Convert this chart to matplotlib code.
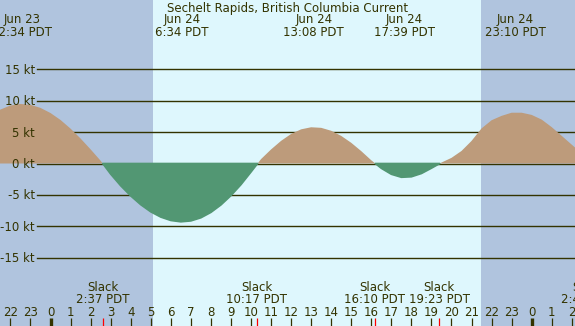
"""
Sechelt Rapids tidal current, Jun 23-24 (XTide-style chart).
Saves out.png at 575x326.
"""
import numpy as np
import matplotlib
matplotlib.use("Agg")
import matplotlib.pyplot as plt
from matplotlib.transforms import blended_transform_factory

# --- Data (hours relative to Jun 24 00:00 PDT, speed in knots) ---
hours = np.arange(-3.0, 27.0, 0.5)
speed = np.array([
    7.8, 8.6, 9.25, 9.5, 9.36, 8.87, 8.05, 6.94, 5.56, 3.98, 2.25, 0.44,
    -1.69, -3.55, -5.17, -6.57, -7.71, -8.55, -9.09, -9.30, -9.16, -8.66,
    -7.80, -6.61, -5.12, -3.37, -1.36,
    0.70, 2.24, 3.61, 4.71, 5.45, 5.78, 5.69, 5.22, 4.40, 3.30, 1.97, 0.51,
    -0.77, -1.72, -2.20, -2.12, -1.60, -0.75,
    0.15, 0.9, 2.0, 3.6, 5.6, 6.9, 7.6, 8.1, 8.1, 7.75, 7.0, 5.8, 4.4, 3.0, 1.6,
])

# max / min current events shown along the top
peak_times = [-1.433, 6.567, 13.133, 17.65, 23.167]
peak_dates = ["Jun 23", "Jun 24", "Jun 24", "Jun 24", "Jun 24"]
peak_clock = ["22:34 PDT", "6:34 PDT", "13:08 PDT", "17:39 PDT", "23:10 PDT"]

# slack water events shown along the bottom
slack_times = [2.617, 10.283, 16.167, 19.383, 26.78]
slack_clock = ["2:37 PDT", "10:17 PDT", "16:10 PDT", "19:23 PDT", "2:47 PDT"]

sunrise, sunset = 5.11, 21.47
grid_kt = [15, 10, 5, 0, -5, -10, -15]
hour_ticks = list(range(-2, 27))
hour_labels = [str(h % 24) for h in hour_ticks]

# --- Style ---
W, H = 575, 326
NIGHT = "#b0c4de"
DAY = "#def7fd"
FLOOD = "#bd9b7b"
EBB = "#529773"
INK = "#333300"
FS = 8.5

fig = plt.figure(figsize=(W / 100, H / 100), dpi=100)
ax = fig.add_axes([0, 0, 1, 1])
ax.set_xlim(-2.52, 26.16)
ax.set_ylim(-25.92, 26.08)
ax.axis("off")
fig.patch.set_facecolor(NIGHT)

# day / night shading
ax.axvspan(-10, sunrise, color=NIGHT, lw=0, zorder=0)
ax.axvspan(sunrise, sunset, color=DAY, lw=0, zorder=0)
ax.axvspan(sunset, 40, color=NIGHT, lw=0, zorder=0)

# knot grid lines and labels
for k in grid_kt:
    ax.axhline(k, xmin=37 / W, xmax=1, color=INK, lw=1.0, zorder=1)
    ax.text(-0.773, k - 0.72, f"{k} kt", ha="right", va="baseline",
            fontsize=FS, color=INK)

# current curve
ax.fill_between(hours, speed, 0, where=speed >= 0, interpolate=True,
                color=FLOOD, lw=0, zorder=2)
ax.fill_between(hours, speed, 0, where=speed <= 0, interpolate=True,
                facecolor=EBB, edgecolor=EBB, lw=1.2, zorder=2)

# text placed by pixel rows
tr = blended_transform_factory(ax.transData, ax.transAxes)


def row(px):
    return 1 - px / H


ax.text(0.5, row(11.7), "Sechelt Rapids, British Columbia Current",
        transform=ax.transAxes, ha="center", va="baseline",
        fontsize=FS, color=INK)

for t, d, c in zip(peak_times, peak_dates, peak_clock):
    ax.text(t, row(23.3), d, transform=tr, ha="center", va="baseline",
            fontsize=FS, color=INK)
    ax.text(t, row(35.7), c, transform=tr, ha="center", va="baseline",
            fontsize=FS, color=INK)

for t, c in zip(slack_times, slack_clock):
    ax.text(t, row(291), "Slack", transform=tr, ha="center", va="baseline",
            fontsize=FS, color=INK)
    ax.text(t, row(303.3), c, transform=tr, ha="center", va="baseline",
            fontsize=FS, color=INK)

# hour ticks
for h, lab in zip(hour_ticks, hour_labels):
    ax.text(h, row(316), lab, transform=tr, ha="center", va="baseline",
            fontsize=FS, color=INK)
    ax.vlines(h, 0, row(318), transform=tr, color=INK,
              lw=2.4 if lab == "0" else 0.9, zorder=3)
ax.vlines(slack_times, 0, row(318), transform=tr, color="red", lw=0.9,
          zorder=3)

fig.savefig("out.png", dpi=100, facecolor=NIGHT)
